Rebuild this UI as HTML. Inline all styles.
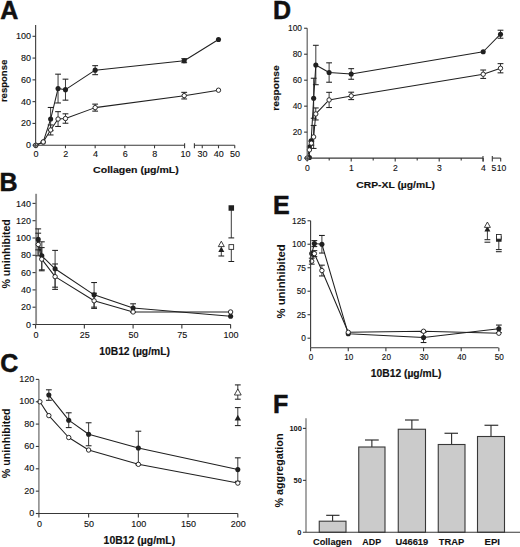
<!DOCTYPE html>
<html><head><meta charset="utf-8"><style>
html,body{margin:0;padding:0;background:#fff;}
svg{display:block;font-family:"Liberation Sans",sans-serif;}
</style></head><body>
<svg width="520" height="547" viewBox="0 0 520 547">
<rect width="520" height="547" fill="#fff"/>
<text x="0.3" y="18.6" font-size="25" text-anchor="start" font-weight="bold" stroke="#111" stroke-width="0.5" fill="#111">A</text>
<text x="31" y="148.2" font-size="9" text-anchor="end" stroke="#111" stroke-width="0.12" fill="#111">0</text>
<text x="31" y="126.42" font-size="9" text-anchor="end" stroke="#111" stroke-width="0.12" fill="#111">20</text>
<text x="31" y="104.64" font-size="9" text-anchor="end" stroke="#111" stroke-width="0.12" fill="#111">40</text>
<text x="31" y="82.86" font-size="9" text-anchor="end" stroke="#111" stroke-width="0.12" fill="#111">60</text>
<text x="31" y="61.08" font-size="9" text-anchor="end" stroke="#111" stroke-width="0.12" fill="#111">80</text>
<text x="31" y="39.3" font-size="9" text-anchor="end" stroke="#111" stroke-width="0.12" fill="#111">100</text>
<text x="36.1" y="157.2" font-size="9" text-anchor="middle" stroke="#111" stroke-width="0.12" fill="#111">0</text>
<text x="65.78" y="157.2" font-size="9" text-anchor="middle" stroke="#111" stroke-width="0.12" fill="#111">2</text>
<text x="95.46" y="157.2" font-size="9" text-anchor="middle" stroke="#111" stroke-width="0.12" fill="#111">4</text>
<text x="125.14" y="157.2" font-size="9" text-anchor="middle" stroke="#111" stroke-width="0.12" fill="#111">6</text>
<text x="154.82" y="157.2" font-size="9" text-anchor="middle" stroke="#111" stroke-width="0.12" fill="#111">8</text>
<text x="185.6" y="157.2" font-size="9" text-anchor="middle" stroke="#111" stroke-width="0.12" fill="#111">10</text>
<text x="202.55" y="157.2" font-size="9" text-anchor="middle" stroke="#111" stroke-width="0.12" fill="#111">30</text>
<text x="218.8" y="157.2" font-size="9" text-anchor="middle" stroke="#111" stroke-width="0.12" fill="#111">40</text>
<text x="235.05" y="157.2" font-size="9" text-anchor="middle" stroke="#111" stroke-width="0.12" fill="#111">50</text>
<text x="135.9" y="173.1" font-size="9.4" text-anchor="middle" font-weight="bold" textLength="85.6" lengthAdjust="spacingAndGlyphs" stroke="#111" stroke-width="0.15" fill="#111">Collagen (µg/mL)</text>
<text x="6.6" y="80.9" font-size="9.5" text-anchor="middle" font-weight="bold" textLength="42.4" lengthAdjust="spacingAndGlyphs" transform="rotate(-90 6.6 80.9)" stroke="#111" stroke-width="0.15" fill="#111">response</text>
<line x1="50.64" y1="129.95" x2="50.64" y2="124.95" stroke="#303030" stroke-width="0.95"/>
<line x1="47.74" y1="124.95" x2="53.54" y2="124.95" stroke="#202020" stroke-width="1.05"/>
<line x1="50.64" y1="129.95" x2="50.64" y2="134.95" stroke="#303030" stroke-width="0.95"/>
<line x1="47.74" y1="134.95" x2="53.54" y2="134.95" stroke="#202020" stroke-width="1.05"/>
<line x1="58.06" y1="119.06" x2="58.06" y2="111.66" stroke="#303030" stroke-width="0.95"/>
<line x1="55.16" y1="111.66" x2="60.96" y2="111.66" stroke="#202020" stroke-width="1.05"/>
<line x1="58.06" y1="119.06" x2="58.06" y2="126.46" stroke="#303030" stroke-width="0.95"/>
<line x1="55.16" y1="126.46" x2="60.96" y2="126.46" stroke="#202020" stroke-width="1.05"/>
<line x1="65.48" y1="118.52" x2="65.48" y2="113.82" stroke="#303030" stroke-width="0.95"/>
<line x1="62.58" y1="113.82" x2="68.38" y2="113.82" stroke="#202020" stroke-width="1.05"/>
<line x1="65.48" y1="118.52" x2="65.48" y2="123.22" stroke="#303030" stroke-width="0.95"/>
<line x1="62.58" y1="123.22" x2="68.38" y2="123.22" stroke="#202020" stroke-width="1.05"/>
<line x1="95.16" y1="107.63" x2="95.16" y2="104.13" stroke="#303030" stroke-width="0.95"/>
<line x1="92.26" y1="104.13" x2="98.06" y2="104.13" stroke="#202020" stroke-width="1.05"/>
<line x1="95.16" y1="107.63" x2="95.16" y2="111.13" stroke="#303030" stroke-width="0.95"/>
<line x1="92.26" y1="111.13" x2="98.06" y2="111.13" stroke="#202020" stroke-width="1.05"/>
<line x1="184.2" y1="95.65" x2="184.2" y2="92.35" stroke="#303030" stroke-width="0.95"/>
<line x1="181.3" y1="92.35" x2="187.1" y2="92.35" stroke="#202020" stroke-width="1.05"/>
<line x1="184.2" y1="95.65" x2="184.2" y2="98.95" stroke="#303030" stroke-width="0.95"/>
<line x1="181.3" y1="98.95" x2="187.1" y2="98.95" stroke="#202020" stroke-width="1.05"/>
<line x1="50.64" y1="119.06" x2="50.64" y2="107.46" stroke="#303030" stroke-width="0.95"/>
<line x1="47.74" y1="107.46" x2="53.54" y2="107.46" stroke="#202020" stroke-width="1.05"/>
<line x1="50.64" y1="119.06" x2="50.64" y2="130.66" stroke="#303030" stroke-width="0.95"/>
<line x1="47.74" y1="130.66" x2="53.54" y2="130.66" stroke="#202020" stroke-width="1.05"/>
<line x1="58.06" y1="88.57" x2="58.06" y2="74.17" stroke="#303030" stroke-width="0.95"/>
<line x1="55.16" y1="74.17" x2="60.96" y2="74.17" stroke="#202020" stroke-width="1.05"/>
<line x1="58.06" y1="88.57" x2="58.06" y2="102.97" stroke="#303030" stroke-width="0.95"/>
<line x1="55.16" y1="102.97" x2="60.96" y2="102.97" stroke="#202020" stroke-width="1.05"/>
<line x1="65.48" y1="89.66" x2="65.48" y2="79.16" stroke="#303030" stroke-width="0.95"/>
<line x1="62.58" y1="79.16" x2="68.38" y2="79.16" stroke="#202020" stroke-width="1.05"/>
<line x1="65.48" y1="89.66" x2="65.48" y2="100.16" stroke="#303030" stroke-width="0.95"/>
<line x1="62.58" y1="100.16" x2="68.38" y2="100.16" stroke="#202020" stroke-width="1.05"/>
<line x1="95.16" y1="70.17" x2="95.16" y2="65.67" stroke="#303030" stroke-width="0.95"/>
<line x1="92.26" y1="65.67" x2="98.06" y2="65.67" stroke="#202020" stroke-width="1.05"/>
<line x1="95.16" y1="70.17" x2="95.16" y2="74.67" stroke="#303030" stroke-width="0.95"/>
<line x1="92.26" y1="74.67" x2="98.06" y2="74.67" stroke="#202020" stroke-width="1.05"/>
<line x1="184.2" y1="60.69" x2="184.2" y2="58.69" stroke="#303030" stroke-width="0.95"/>
<line x1="181.3" y1="58.69" x2="187.1" y2="58.69" stroke="#202020" stroke-width="1.05"/>
<line x1="184.2" y1="60.69" x2="184.2" y2="62.69" stroke="#303030" stroke-width="0.95"/>
<line x1="181.3" y1="62.69" x2="187.1" y2="62.69" stroke="#202020" stroke-width="1.05"/>
<polyline points="35.8,145.2 43.22,141.93 50.64,129.95 58.06,119.06 65.48,118.52 95.16,107.63 184.2,95.65 218.5,90.21" fill="none" stroke="#202020" stroke-width="1.05" stroke-linejoin="round"/>
<polyline points="35.8,145.2 43.22,141.93 50.64,119.06 58.06,88.57 65.48,89.66 95.16,70.17 184.2,60.69 218.5,39.57" fill="none" stroke="#202020" stroke-width="1.05" stroke-linejoin="round"/>
<circle cx="35.8" cy="145.2" r="2.55" fill="#202020"/>
<circle cx="43.22" cy="141.93" r="2.55" fill="#202020"/>
<circle cx="50.64" cy="119.06" r="2.55" fill="#202020"/>
<circle cx="58.06" cy="88.57" r="2.55" fill="#202020"/>
<circle cx="65.48" cy="89.66" r="2.55" fill="#202020"/>
<circle cx="95.16" cy="70.17" r="2.55" fill="#202020"/>
<circle cx="184.2" cy="60.69" r="2.55" fill="#202020"/>
<circle cx="218.5" cy="39.57" r="2.55" fill="#202020"/>
<circle cx="35.8" cy="145.2" r="2.2" fill="#fff" stroke="#202020" stroke-width="0.95"/>
<circle cx="43.22" cy="141.93" r="2.2" fill="#fff" stroke="#202020" stroke-width="0.95"/>
<circle cx="50.64" cy="129.95" r="2.2" fill="#fff" stroke="#202020" stroke-width="0.95"/>
<circle cx="58.06" cy="119.06" r="2.2" fill="#fff" stroke="#202020" stroke-width="0.95"/>
<circle cx="65.48" cy="118.52" r="2.2" fill="#fff" stroke="#202020" stroke-width="0.95"/>
<circle cx="95.16" cy="107.63" r="2.2" fill="#fff" stroke="#202020" stroke-width="0.95"/>
<circle cx="184.2" cy="95.65" r="2.2" fill="#fff" stroke="#202020" stroke-width="0.95"/>
<circle cx="218.5" cy="90.21" r="2.2" fill="#fff" stroke="#202020" stroke-width="0.95"/>
<text x="-0.4" y="190.8" font-size="25" text-anchor="start" font-weight="bold" stroke="#111" stroke-width="0.5" fill="#111">B</text>
<line x1="36.1" y1="193.8" x2="36.1" y2="324.5" stroke="#8e8e8e" stroke-width="1.9"/>
<text x="31" y="327.61" font-size="9" text-anchor="end" stroke="#111" stroke-width="0.12" fill="#111">0</text>
<text x="31" y="310.31" font-size="9" text-anchor="end" stroke="#111" stroke-width="0.12" fill="#111">20</text>
<text x="31" y="293" font-size="9" text-anchor="end" stroke="#111" stroke-width="0.12" fill="#111">40</text>
<text x="31" y="275.71" font-size="9" text-anchor="end" stroke="#111" stroke-width="0.12" fill="#111">60</text>
<text x="31" y="258.41" font-size="9" text-anchor="end" stroke="#111" stroke-width="0.12" fill="#111">80</text>
<text x="31" y="241.1" font-size="9" text-anchor="end" stroke="#111" stroke-width="0.12" fill="#111">100</text>
<text x="31" y="223.8" font-size="9" text-anchor="end" stroke="#111" stroke-width="0.12" fill="#111">120</text>
<text x="31" y="206.5" font-size="9" text-anchor="end" stroke="#111" stroke-width="0.12" fill="#111">140</text>
<text x="36.1" y="337.5" font-size="9" text-anchor="middle" stroke="#111" stroke-width="0.12" fill="#111">0</text>
<text x="84.85" y="337.5" font-size="9" text-anchor="middle" stroke="#111" stroke-width="0.12" fill="#111">25</text>
<text x="133.6" y="337.5" font-size="9" text-anchor="middle" stroke="#111" stroke-width="0.12" fill="#111">50</text>
<text x="182.35" y="337.5" font-size="9" text-anchor="middle" stroke="#111" stroke-width="0.12" fill="#111">75</text>
<text x="231.1" y="337.5" font-size="9" text-anchor="middle" stroke="#111" stroke-width="0.12" fill="#111">100</text>
<text x="134.6" y="355" font-size="10" text-anchor="middle" font-weight="bold" textLength="70.8" lengthAdjust="spacingAndGlyphs" stroke="#111" stroke-width="0.15" fill="#111">10B12 (µg/mL)</text>
<text x="10" y="253.9" font-size="10.3" text-anchor="middle" font-weight="bold" textLength="69.3" lengthAdjust="spacingAndGlyphs" transform="rotate(-90 10 253.9)" fill="#111">% uninhibited</text>
<rect x="35.6" y="249.8" width="4" height="5.4" fill="#a5a5a5"/>
<line x1="38.23" y1="244.49" x2="38.23" y2="233.19" stroke="#303030" stroke-width="0.95"/>
<line x1="35.33" y1="233.19" x2="41.13" y2="233.19" stroke="#202020" stroke-width="1.05"/>
<line x1="38.23" y1="244.49" x2="38.23" y2="255.79" stroke="#303030" stroke-width="0.95"/>
<line x1="35.33" y1="255.79" x2="41.13" y2="255.79" stroke="#202020" stroke-width="1.05"/>
<line x1="41.74" y1="259.19" x2="41.74" y2="247.59" stroke="#303030" stroke-width="0.95"/>
<line x1="38.84" y1="247.59" x2="44.64" y2="247.59" stroke="#202020" stroke-width="1.05"/>
<line x1="41.74" y1="259.19" x2="41.74" y2="270.79" stroke="#303030" stroke-width="0.95"/>
<line x1="38.84" y1="270.79" x2="44.64" y2="270.79" stroke="#202020" stroke-width="1.05"/>
<line x1="55.1" y1="276.67" x2="55.1" y2="263.97" stroke="#303030" stroke-width="0.95"/>
<line x1="52.2" y1="263.97" x2="58" y2="263.97" stroke="#202020" stroke-width="1.05"/>
<line x1="55.1" y1="276.67" x2="55.1" y2="289.37" stroke="#303030" stroke-width="0.95"/>
<line x1="52.2" y1="289.37" x2="58" y2="289.37" stroke="#202020" stroke-width="1.05"/>
<line x1="94.1" y1="300.8" x2="94.1" y2="293.2" stroke="#303030" stroke-width="0.95"/>
<line x1="91.2" y1="293.2" x2="97" y2="293.2" stroke="#202020" stroke-width="1.05"/>
<line x1="94.1" y1="300.8" x2="94.1" y2="308.4" stroke="#303030" stroke-width="0.95"/>
<line x1="91.2" y1="308.4" x2="97" y2="308.4" stroke="#202020" stroke-width="1.05"/>
<line x1="38.23" y1="239.38" x2="38.23" y2="228.88" stroke="#303030" stroke-width="0.95"/>
<line x1="35.33" y1="228.88" x2="41.13" y2="228.88" stroke="#202020" stroke-width="1.05"/>
<line x1="38.23" y1="239.38" x2="38.23" y2="249.88" stroke="#303030" stroke-width="0.95"/>
<line x1="35.33" y1="249.88" x2="41.13" y2="249.88" stroke="#202020" stroke-width="1.05"/>
<line x1="41.84" y1="255.82" x2="41.84" y2="241.82" stroke="#303030" stroke-width="0.95"/>
<line x1="38.94" y1="241.82" x2="44.74" y2="241.82" stroke="#202020" stroke-width="1.05"/>
<line x1="41.84" y1="255.82" x2="41.84" y2="269.82" stroke="#303030" stroke-width="0.95"/>
<line x1="38.94" y1="269.82" x2="44.74" y2="269.82" stroke="#202020" stroke-width="1.05"/>
<line x1="55.1" y1="268.79" x2="55.1" y2="250.39" stroke="#303030" stroke-width="0.95"/>
<line x1="52.2" y1="250.39" x2="58" y2="250.39" stroke="#202020" stroke-width="1.05"/>
<line x1="55.1" y1="268.79" x2="55.1" y2="287.19" stroke="#303030" stroke-width="0.95"/>
<line x1="52.2" y1="287.19" x2="58" y2="287.19" stroke="#202020" stroke-width="1.05"/>
<line x1="94.1" y1="294.83" x2="94.1" y2="282.53" stroke="#303030" stroke-width="0.95"/>
<line x1="91.2" y1="282.53" x2="97" y2="282.53" stroke="#202020" stroke-width="1.05"/>
<line x1="94.1" y1="294.83" x2="94.1" y2="307.13" stroke="#303030" stroke-width="0.95"/>
<line x1="91.2" y1="307.13" x2="97" y2="307.13" stroke="#202020" stroke-width="1.05"/>
<line x1="133.1" y1="308.06" x2="133.1" y2="303.81" stroke="#303030" stroke-width="0.95"/>
<line x1="130.2" y1="303.81" x2="136" y2="303.81" stroke="#202020" stroke-width="1.05"/>
<line x1="133.1" y1="308.06" x2="133.1" y2="312.31" stroke="#303030" stroke-width="0.95"/>
<line x1="130.2" y1="312.31" x2="136" y2="312.31" stroke="#202020" stroke-width="1.05"/>
<polyline points="38.23,244.49 41.74,259.19 55.1,276.67 94.1,300.8 133.1,311.96 230.6,311.96" fill="none" stroke="#202020" stroke-width="1.05" stroke-linejoin="round"/>
<polyline points="38.23,239.38 41.84,255.82 55.1,268.79 94.1,294.83 133.1,308.06 230.6,316.28" fill="none" stroke="#202020" stroke-width="1.05" stroke-linejoin="round"/>
<circle cx="38.23" cy="239.38" r="2.55" fill="#202020"/>
<circle cx="41.84" cy="255.82" r="2.55" fill="#202020"/>
<circle cx="55.1" cy="268.79" r="2.55" fill="#202020"/>
<circle cx="94.1" cy="294.83" r="2.55" fill="#202020"/>
<circle cx="133.1" cy="308.06" r="2.55" fill="#202020"/>
<circle cx="230.6" cy="316.28" r="2.55" fill="#202020"/>
<circle cx="38.23" cy="244.49" r="2.2" fill="#fff" stroke="#202020" stroke-width="0.95"/>
<circle cx="41.74" cy="259.19" r="2.2" fill="#fff" stroke="#202020" stroke-width="0.95"/>
<circle cx="55.1" cy="276.67" r="2.2" fill="#fff" stroke="#202020" stroke-width="0.95"/>
<circle cx="94.1" cy="300.8" r="2.2" fill="#fff" stroke="#202020" stroke-width="0.95"/>
<circle cx="133.1" cy="311.96" r="2.2" fill="#fff" stroke="#202020" stroke-width="0.95"/>
<circle cx="230.6" cy="311.96" r="2.2" fill="#fff" stroke="#202020" stroke-width="0.95"/>
<line x1="231.3" y1="208" x2="231.3" y2="237.9" stroke="#303030" stroke-width="0.95"/>
<line x1="228.4" y1="237.9" x2="234.2" y2="237.9" stroke="#202020" stroke-width="1.05"/>
<rect x="228.55" y="205.25" width="5.5" height="5.5" fill="#202020"/>
<line x1="231.3" y1="247" x2="231.3" y2="261.5" stroke="#303030" stroke-width="0.95"/>
<line x1="228.4" y1="261.5" x2="234.2" y2="261.5" stroke="#202020" stroke-width="1.05"/>
<rect x="228.95" y="244.65" width="4.7" height="4.7" fill="#fff" stroke="#202020" stroke-width="0.85"/>
<line x1="221.3" y1="249.6" x2="221.3" y2="256" stroke="#303030" stroke-width="0.95"/>
<line x1="218.4" y1="256" x2="224.2" y2="256" stroke="#202020" stroke-width="1.05"/>
<polygon points="221.3,246.6 224.3,252 218.3,252" fill="#202020"/>
<polygon points="221.3,241.2 224.3,246.6 218.3,246.6" fill="#fff" stroke="#202020" stroke-width="0.85"/>
<text x="0.3" y="371.5" font-size="25" text-anchor="start" font-weight="bold" stroke="#111" stroke-width="0.5" fill="#111">C</text>
<line x1="38.9" y1="379.4" x2="38.9" y2="513.5" stroke="#787878" stroke-width="1.35"/>
<text x="34.3" y="516.11" font-size="9" text-anchor="end" stroke="#111" stroke-width="0.12" fill="#111">0</text>
<text x="34.3" y="493.75" font-size="9" text-anchor="end" stroke="#111" stroke-width="0.12" fill="#111">20</text>
<text x="34.3" y="471.41" font-size="9" text-anchor="end" stroke="#111" stroke-width="0.12" fill="#111">40</text>
<text x="34.3" y="449.06" font-size="9" text-anchor="end" stroke="#111" stroke-width="0.12" fill="#111">60</text>
<text x="34.3" y="426.71" font-size="9" text-anchor="end" stroke="#111" stroke-width="0.12" fill="#111">80</text>
<text x="34.3" y="404.36" font-size="9" text-anchor="end" stroke="#111" stroke-width="0.12" fill="#111">100</text>
<text x="34.3" y="382" font-size="9" text-anchor="end" stroke="#111" stroke-width="0.12" fill="#111">120</text>
<text x="39.4" y="526.8" font-size="9" text-anchor="middle" stroke="#111" stroke-width="0.12" fill="#111">0</text>
<text x="89.12" y="526.8" font-size="9" text-anchor="middle" stroke="#111" stroke-width="0.12" fill="#111">50</text>
<text x="138.85" y="526.8" font-size="9" text-anchor="middle" stroke="#111" stroke-width="0.12" fill="#111">100</text>
<text x="188.58" y="526.8" font-size="9" text-anchor="middle" stroke="#111" stroke-width="0.12" fill="#111">150</text>
<text x="238.3" y="526.8" font-size="9" text-anchor="middle" stroke="#111" stroke-width="0.12" fill="#111">200</text>
<text x="139.4" y="544.2" font-size="10" text-anchor="middle" font-weight="bold" textLength="71.6" lengthAdjust="spacingAndGlyphs" stroke="#111" stroke-width="0.15" fill="#111">10B12 (µg/mL)</text>
<text x="10.2" y="443.3" font-size="10.3" text-anchor="middle" font-weight="bold" textLength="69.8" lengthAdjust="spacingAndGlyphs" transform="rotate(-90 10.2 443.3)" fill="#111">% uninhibited</text>
<line x1="48.84" y1="395.05" x2="48.84" y2="389.8" stroke="#303030" stroke-width="0.95"/>
<line x1="45.95" y1="389.8" x2="51.74" y2="389.8" stroke="#202020" stroke-width="1.05"/>
<line x1="48.84" y1="395.05" x2="48.84" y2="400.3" stroke="#303030" stroke-width="0.95"/>
<line x1="45.95" y1="400.3" x2="51.74" y2="400.3" stroke="#202020" stroke-width="1.05"/>
<line x1="68.73" y1="420.19" x2="68.73" y2="412.79" stroke="#303030" stroke-width="0.95"/>
<line x1="65.83" y1="412.79" x2="71.64" y2="412.79" stroke="#202020" stroke-width="1.05"/>
<line x1="68.73" y1="420.19" x2="68.73" y2="427.59" stroke="#303030" stroke-width="0.95"/>
<line x1="65.83" y1="427.59" x2="71.64" y2="427.59" stroke="#202020" stroke-width="1.05"/>
<line x1="88.62" y1="434.27" x2="88.62" y2="422.77" stroke="#303030" stroke-width="0.95"/>
<line x1="85.72" y1="422.77" x2="91.53" y2="422.77" stroke="#202020" stroke-width="1.05"/>
<line x1="88.62" y1="434.27" x2="88.62" y2="445.77" stroke="#303030" stroke-width="0.95"/>
<line x1="85.72" y1="445.77" x2="91.53" y2="445.77" stroke="#202020" stroke-width="1.05"/>
<line x1="138.35" y1="448.01" x2="138.35" y2="431.21" stroke="#303030" stroke-width="0.95"/>
<line x1="135.45" y1="431.21" x2="141.25" y2="431.21" stroke="#202020" stroke-width="1.05"/>
<line x1="138.35" y1="448.01" x2="138.35" y2="464.81" stroke="#303030" stroke-width="0.95"/>
<line x1="135.45" y1="464.81" x2="141.25" y2="464.81" stroke="#202020" stroke-width="1.05"/>
<line x1="237.8" y1="469.58" x2="237.8" y2="457.83" stroke="#303030" stroke-width="0.95"/>
<line x1="234.9" y1="457.83" x2="240.7" y2="457.83" stroke="#202020" stroke-width="1.05"/>
<line x1="237.8" y1="469.58" x2="237.8" y2="481.33" stroke="#303030" stroke-width="0.95"/>
<line x1="234.9" y1="481.33" x2="240.7" y2="481.33" stroke="#202020" stroke-width="1.05"/>
<polyline points="39.89,401.75 48.84,415.61 68.73,437.51 88.62,450.03 138.35,464.33 237.8,483.1" fill="none" stroke="#202020" stroke-width="1.05" stroke-linejoin="round"/>
<polyline points="48.84,395.05 68.73,420.19 88.62,434.27 138.35,448.01 237.8,469.58" fill="none" stroke="#202020" stroke-width="1.05" stroke-linejoin="round"/>
<circle cx="48.84" cy="395.05" r="2.55" fill="#202020"/>
<circle cx="68.73" cy="420.19" r="2.55" fill="#202020"/>
<circle cx="88.62" cy="434.27" r="2.55" fill="#202020"/>
<circle cx="138.35" cy="448.01" r="2.55" fill="#202020"/>
<circle cx="237.8" cy="469.58" r="2.55" fill="#202020"/>
<circle cx="39.89" cy="401.75" r="2.2" fill="#fff" stroke="#202020" stroke-width="0.95"/>
<circle cx="48.84" cy="415.61" r="2.2" fill="#fff" stroke="#202020" stroke-width="0.95"/>
<circle cx="68.73" cy="437.51" r="2.2" fill="#fff" stroke="#202020" stroke-width="0.95"/>
<circle cx="88.62" cy="450.03" r="2.2" fill="#fff" stroke="#202020" stroke-width="0.95"/>
<circle cx="138.35" cy="464.33" r="2.2" fill="#fff" stroke="#202020" stroke-width="0.95"/>
<circle cx="237.8" cy="483.1" r="2.2" fill="#fff" stroke="#202020" stroke-width="0.95"/>
<line x1="237.8" y1="392.3" x2="237.8" y2="384.9" stroke="#303030" stroke-width="0.95"/>
<line x1="234.9" y1="384.9" x2="240.7" y2="384.9" stroke="#202020" stroke-width="1.05"/>
<line x1="237.8" y1="392.3" x2="237.8" y2="399.2" stroke="#303030" stroke-width="0.95"/>
<line x1="234.9" y1="399.2" x2="240.7" y2="399.2" stroke="#202020" stroke-width="1.05"/>
<polygon points="237.8,388.9 241.2,395.02 234.4,395.02" fill="#fff" stroke="#202020" stroke-width="0.85"/>
<line x1="237.8" y1="418" x2="237.8" y2="407.6" stroke="#303030" stroke-width="0.95"/>
<line x1="234.9" y1="407.6" x2="240.7" y2="407.6" stroke="#202020" stroke-width="1.05"/>
<line x1="237.8" y1="418" x2="237.8" y2="425.6" stroke="#303030" stroke-width="0.95"/>
<line x1="234.9" y1="425.6" x2="240.7" y2="425.6" stroke="#202020" stroke-width="1.05"/>
<polygon points="237.8,414.8 241,420.56 234.6,420.56" fill="#202020"/>
<text x="273" y="18.75" font-size="25" text-anchor="start" font-weight="bold" stroke="#111" stroke-width="0.5" fill="#111">D</text>
<text x="302" y="161.3" font-size="8.4" text-anchor="end" stroke="#111" stroke-width="0.12" fill="#111">0</text>
<text x="302" y="135.33" font-size="8.4" text-anchor="end" stroke="#111" stroke-width="0.12" fill="#111">20</text>
<text x="302" y="109.36" font-size="8.4" text-anchor="end" stroke="#111" stroke-width="0.12" fill="#111">40</text>
<text x="302" y="83.39" font-size="8.4" text-anchor="end" stroke="#111" stroke-width="0.12" fill="#111">60</text>
<text x="302" y="57.42" font-size="8.4" text-anchor="end" stroke="#111" stroke-width="0.12" fill="#111">80</text>
<text x="302" y="31.45" font-size="8.4" text-anchor="end" stroke="#111" stroke-width="0.12" fill="#111">100</text>
<text x="307.5" y="171" font-size="8.6" text-anchor="middle" stroke="#111" stroke-width="0.12" fill="#111">0</text>
<text x="351.5" y="171" font-size="8.6" text-anchor="middle" stroke="#111" stroke-width="0.12" fill="#111">1</text>
<text x="395.5" y="171" font-size="8.6" text-anchor="middle" stroke="#111" stroke-width="0.12" fill="#111">2</text>
<text x="439.5" y="171" font-size="8.6" text-anchor="middle" stroke="#111" stroke-width="0.12" fill="#111">3</text>
<text x="483.5" y="171" font-size="8.6" text-anchor="middle" stroke="#111" stroke-width="0.12" fill="#111">4</text>
<text x="493.8" y="171" font-size="8.6" text-anchor="middle" stroke="#111" stroke-width="0.12" fill="#111">5</text>
<text x="501.6" y="171" font-size="8.6" text-anchor="middle" stroke="#111" stroke-width="0.12" fill="#111">10</text>
<text x="395.6" y="188.2" font-size="9.7" text-anchor="middle" font-weight="bold" textLength="78.6" lengthAdjust="spacingAndGlyphs" stroke="#111" stroke-width="0.15" fill="#111">CRP-XL (µg/mL)</text>
<text x="279.4" y="88" font-size="9.7" text-anchor="middle" font-weight="bold" textLength="45.4" lengthAdjust="spacingAndGlyphs" transform="rotate(-90 279.4 88)" stroke="#111" stroke-width="0.15" fill="#111">response</text>
<line x1="311.34" y1="143.17" x2="311.34" y2="141.17" stroke="#303030" stroke-width="0.95"/>
<line x1="308.44" y1="141.17" x2="314.24" y2="141.17" stroke="#202020" stroke-width="1.05"/>
<line x1="311.34" y1="143.17" x2="311.34" y2="145.17" stroke="#303030" stroke-width="0.95"/>
<line x1="308.44" y1="145.17" x2="314.24" y2="145.17" stroke="#202020" stroke-width="1.05"/>
<line x1="313.62" y1="136.93" x2="313.62" y2="125.43" stroke="#303030" stroke-width="0.95"/>
<line x1="310.72" y1="125.43" x2="316.52" y2="125.43" stroke="#202020" stroke-width="1.05"/>
<line x1="313.62" y1="136.93" x2="313.62" y2="148.43" stroke="#303030" stroke-width="0.95"/>
<line x1="310.72" y1="148.43" x2="316.52" y2="148.43" stroke="#202020" stroke-width="1.05"/>
<line x1="315.78" y1="113.95" x2="315.78" y2="107.95" stroke="#303030" stroke-width="0.95"/>
<line x1="312.88" y1="107.95" x2="318.68" y2="107.95" stroke="#202020" stroke-width="1.05"/>
<line x1="315.78" y1="113.95" x2="315.78" y2="119.95" stroke="#303030" stroke-width="0.95"/>
<line x1="312.88" y1="119.95" x2="318.68" y2="119.95" stroke="#202020" stroke-width="1.05"/>
<line x1="329.11" y1="99.93" x2="329.11" y2="92.33" stroke="#303030" stroke-width="0.95"/>
<line x1="326.21" y1="92.33" x2="332.01" y2="92.33" stroke="#202020" stroke-width="1.05"/>
<line x1="329.11" y1="99.93" x2="329.11" y2="107.53" stroke="#303030" stroke-width="0.95"/>
<line x1="326.21" y1="107.53" x2="332.01" y2="107.53" stroke="#202020" stroke-width="1.05"/>
<line x1="351.2" y1="95.9" x2="351.2" y2="92.2" stroke="#303030" stroke-width="0.95"/>
<line x1="348.3" y1="92.2" x2="354.1" y2="92.2" stroke="#202020" stroke-width="1.05"/>
<line x1="351.2" y1="95.9" x2="351.2" y2="99.6" stroke="#303030" stroke-width="0.95"/>
<line x1="348.3" y1="99.6" x2="354.1" y2="99.6" stroke="#202020" stroke-width="1.05"/>
<line x1="483.2" y1="74.22" x2="483.2" y2="70.02" stroke="#303030" stroke-width="0.95"/>
<line x1="480.3" y1="70.02" x2="486.1" y2="70.02" stroke="#202020" stroke-width="1.05"/>
<line x1="483.2" y1="74.22" x2="483.2" y2="78.42" stroke="#303030" stroke-width="0.95"/>
<line x1="480.3" y1="78.42" x2="486.1" y2="78.42" stroke="#202020" stroke-width="1.05"/>
<line x1="500.5" y1="68.24" x2="500.5" y2="63.64" stroke="#303030" stroke-width="0.95"/>
<line x1="497.6" y1="63.64" x2="503.4" y2="63.64" stroke="#202020" stroke-width="1.05"/>
<line x1="500.5" y1="68.24" x2="500.5" y2="72.84" stroke="#303030" stroke-width="0.95"/>
<line x1="497.6" y1="72.84" x2="503.4" y2="72.84" stroke="#202020" stroke-width="1.05"/>
<line x1="313.67" y1="98.24" x2="313.67" y2="78.24" stroke="#303030" stroke-width="0.95"/>
<line x1="310.77" y1="78.24" x2="316.57" y2="78.24" stroke="#202020" stroke-width="1.05"/>
<line x1="313.67" y1="98.24" x2="313.67" y2="118.24" stroke="#303030" stroke-width="0.95"/>
<line x1="310.77" y1="118.24" x2="316.57" y2="118.24" stroke="#202020" stroke-width="1.05"/>
<line x1="315.82" y1="65" x2="315.82" y2="45.3" stroke="#303030" stroke-width="0.95"/>
<line x1="312.92" y1="45.3" x2="318.72" y2="45.3" stroke="#202020" stroke-width="1.05"/>
<line x1="315.82" y1="65" x2="315.82" y2="84.7" stroke="#303030" stroke-width="0.95"/>
<line x1="312.92" y1="84.7" x2="318.72" y2="84.7" stroke="#202020" stroke-width="1.05"/>
<line x1="329.11" y1="72.53" x2="329.11" y2="62.83" stroke="#303030" stroke-width="0.95"/>
<line x1="326.21" y1="62.83" x2="332.01" y2="62.83" stroke="#202020" stroke-width="1.05"/>
<line x1="329.11" y1="72.53" x2="329.11" y2="82.23" stroke="#303030" stroke-width="0.95"/>
<line x1="326.21" y1="82.23" x2="332.01" y2="82.23" stroke="#202020" stroke-width="1.05"/>
<line x1="351.2" y1="73.96" x2="351.2" y2="68.66" stroke="#303030" stroke-width="0.95"/>
<line x1="348.3" y1="68.66" x2="354.1" y2="68.66" stroke="#202020" stroke-width="1.05"/>
<line x1="351.2" y1="73.96" x2="351.2" y2="79.26" stroke="#303030" stroke-width="0.95"/>
<line x1="348.3" y1="79.26" x2="354.1" y2="79.26" stroke="#202020" stroke-width="1.05"/>
<line x1="500.5" y1="34.22" x2="500.5" y2="30.22" stroke="#303030" stroke-width="0.95"/>
<line x1="497.6" y1="30.22" x2="503.4" y2="30.22" stroke="#202020" stroke-width="1.05"/>
<line x1="500.5" y1="34.22" x2="500.5" y2="38.22" stroke="#303030" stroke-width="0.95"/>
<line x1="497.6" y1="38.22" x2="503.4" y2="38.22" stroke="#202020" stroke-width="1.05"/>
<polyline points="307.2,158.1 309.4,149.92 311.34,143.17 313.62,136.93 315.78,113.95 329.11,99.93 351.2,95.9 483.2,74.22 500.5,68.24" fill="none" stroke="#202020" stroke-width="1.05" stroke-linejoin="round"/>
<polyline points="309.4,157.45 309.4,147.06 311.16,140.83 313.67,98.24 315.82,65 329.11,72.53 351.2,73.96 483.2,51.75 500.5,34.22" fill="none" stroke="#202020" stroke-width="1.05" stroke-linejoin="round"/>
<circle cx="309.4" cy="157.45" r="2.55" fill="#202020"/>
<circle cx="309.4" cy="147.06" r="2.55" fill="#202020"/>
<circle cx="311.16" cy="140.83" r="2.55" fill="#202020"/>
<circle cx="313.67" cy="98.24" r="2.55" fill="#202020"/>
<circle cx="315.82" cy="65" r="2.55" fill="#202020"/>
<circle cx="329.11" cy="72.53" r="2.55" fill="#202020"/>
<circle cx="351.2" cy="73.96" r="2.55" fill="#202020"/>
<circle cx="483.2" cy="51.75" r="2.55" fill="#202020"/>
<circle cx="500.5" cy="34.22" r="2.55" fill="#202020"/>
<circle cx="307.2" cy="158.1" r="2.2" fill="#fff" stroke="#202020" stroke-width="0.95"/>
<circle cx="309.4" cy="149.92" r="2.2" fill="#fff" stroke="#202020" stroke-width="0.95"/>
<circle cx="311.34" cy="143.17" r="2.2" fill="#fff" stroke="#202020" stroke-width="0.95"/>
<circle cx="313.62" cy="136.93" r="2.2" fill="#fff" stroke="#202020" stroke-width="0.95"/>
<circle cx="315.78" cy="113.95" r="2.2" fill="#fff" stroke="#202020" stroke-width="0.95"/>
<circle cx="329.11" cy="99.93" r="2.2" fill="#fff" stroke="#202020" stroke-width="0.95"/>
<circle cx="351.2" cy="95.9" r="2.2" fill="#fff" stroke="#202020" stroke-width="0.95"/>
<circle cx="483.2" cy="74.22" r="2.2" fill="#fff" stroke="#202020" stroke-width="0.95"/>
<circle cx="500.5" cy="68.24" r="2.2" fill="#fff" stroke="#202020" stroke-width="0.95"/>
<text x="273" y="213.6" font-size="25" text-anchor="start" font-weight="bold" stroke="#111" stroke-width="0.5" fill="#111">E</text>
<text x="306" y="341.1" font-size="8.4" text-anchor="end" stroke="#111" stroke-width="0.12" fill="#111">0</text>
<text x="306" y="317.61" font-size="8.4" text-anchor="end" stroke="#111" stroke-width="0.12" fill="#111">25</text>
<text x="306" y="294.12" font-size="8.4" text-anchor="end" stroke="#111" stroke-width="0.12" fill="#111">50</text>
<text x="306" y="270.64" font-size="8.4" text-anchor="end" stroke="#111" stroke-width="0.12" fill="#111">75</text>
<text x="306" y="247.15" font-size="8.4" text-anchor="end" stroke="#111" stroke-width="0.12" fill="#111">100</text>
<text x="306" y="223.66" font-size="8.4" text-anchor="end" stroke="#111" stroke-width="0.12" fill="#111">125</text>
<text x="311.1" y="359.8" font-size="8.2" text-anchor="middle" stroke="#111" stroke-width="0.12" fill="#111">0</text>
<text x="348.75" y="359.8" font-size="8.2" text-anchor="middle" stroke="#111" stroke-width="0.12" fill="#111">10</text>
<text x="386.4" y="359.8" font-size="8.2" text-anchor="middle" stroke="#111" stroke-width="0.12" fill="#111">20</text>
<text x="424.05" y="359.8" font-size="8.2" text-anchor="middle" stroke="#111" stroke-width="0.12" fill="#111">30</text>
<text x="461.7" y="359.8" font-size="8.2" text-anchor="middle" stroke="#111" stroke-width="0.12" fill="#111">40</text>
<text x="499.35" y="359.8" font-size="8.2" text-anchor="middle" stroke="#111" stroke-width="0.12" fill="#111">50</text>
<text x="406.1" y="377.3" font-size="10.1" text-anchor="middle" font-weight="bold" textLength="70.6" lengthAdjust="spacingAndGlyphs" stroke="#111" stroke-width="0.15" fill="#111">10B12 (µg/mL)</text>
<text x="285.3" y="281.4" font-size="11" text-anchor="middle" font-weight="bold" textLength="74.2" lengthAdjust="spacingAndGlyphs" transform="rotate(-90 285.3 281.4)" fill="#111">% uninhibited</text>
<line x1="311.73" y1="261.16" x2="311.73" y2="258.16" stroke="#303030" stroke-width="0.95"/>
<line x1="308.83" y1="258.16" x2="314.63" y2="258.16" stroke="#202020" stroke-width="1.05"/>
<line x1="311.73" y1="261.16" x2="311.73" y2="264.16" stroke="#303030" stroke-width="0.95"/>
<line x1="308.83" y1="264.16" x2="314.63" y2="264.16" stroke="#202020" stroke-width="1.05"/>
<line x1="314.37" y1="253.64" x2="314.37" y2="250.64" stroke="#303030" stroke-width="0.95"/>
<line x1="311.47" y1="250.64" x2="317.26" y2="250.64" stroke="#202020" stroke-width="1.05"/>
<line x1="314.37" y1="253.64" x2="314.37" y2="256.64" stroke="#303030" stroke-width="0.95"/>
<line x1="311.47" y1="256.64" x2="317.26" y2="256.64" stroke="#202020" stroke-width="1.05"/>
<line x1="321.9" y1="270.56" x2="321.9" y2="265.16" stroke="#303030" stroke-width="0.95"/>
<line x1="319" y1="265.16" x2="324.8" y2="265.16" stroke="#202020" stroke-width="1.05"/>
<line x1="321.9" y1="270.56" x2="321.9" y2="275.96" stroke="#303030" stroke-width="0.95"/>
<line x1="319" y1="275.96" x2="324.8" y2="275.96" stroke="#202020" stroke-width="1.05"/>
<line x1="314.37" y1="243.59" x2="314.37" y2="240.59" stroke="#303030" stroke-width="0.95"/>
<line x1="311.47" y1="240.59" x2="317.26" y2="240.59" stroke="#202020" stroke-width="1.05"/>
<line x1="314.37" y1="243.59" x2="314.37" y2="246.59" stroke="#303030" stroke-width="0.95"/>
<line x1="311.47" y1="246.59" x2="317.26" y2="246.59" stroke="#202020" stroke-width="1.05"/>
<line x1="321.9" y1="244.25" x2="321.9" y2="235.45" stroke="#303030" stroke-width="0.95"/>
<line x1="319" y1="235.45" x2="324.8" y2="235.45" stroke="#202020" stroke-width="1.05"/>
<line x1="321.9" y1="244.25" x2="321.9" y2="253.05" stroke="#303030" stroke-width="0.95"/>
<line x1="319" y1="253.05" x2="324.8" y2="253.05" stroke="#202020" stroke-width="1.05"/>
<line x1="423.55" y1="337.54" x2="423.55" y2="332.54" stroke="#303030" stroke-width="0.95"/>
<line x1="420.65" y1="332.54" x2="426.45" y2="332.54" stroke="#202020" stroke-width="1.05"/>
<line x1="423.55" y1="337.54" x2="423.55" y2="342.54" stroke="#303030" stroke-width="0.95"/>
<line x1="420.65" y1="342.54" x2="426.45" y2="342.54" stroke="#202020" stroke-width="1.05"/>
<line x1="498.85" y1="328.81" x2="498.85" y2="325.06" stroke="#303030" stroke-width="0.95"/>
<line x1="495.95" y1="325.06" x2="501.75" y2="325.06" stroke="#202020" stroke-width="1.05"/>
<line x1="498.85" y1="328.81" x2="498.85" y2="332.56" stroke="#303030" stroke-width="0.95"/>
<line x1="495.95" y1="332.56" x2="501.75" y2="332.56" stroke="#202020" stroke-width="1.05"/>
<polyline points="311.73,261.16 314.37,253.64 321.9,270.56 348.25,332.28 423.55,331.25 498.85,333.22" fill="none" stroke="#202020" stroke-width="1.05" stroke-linejoin="round"/>
<polyline points="311.73,253.64 314.37,243.59 321.9,244.25 348.25,333.78 423.55,337.54 498.85,328.81" fill="none" stroke="#202020" stroke-width="1.05" stroke-linejoin="round"/>
<circle cx="311.73" cy="253.64" r="2.55" fill="#202020"/>
<circle cx="314.37" cy="243.59" r="2.55" fill="#202020"/>
<circle cx="321.9" cy="244.25" r="2.55" fill="#202020"/>
<circle cx="348.25" cy="333.78" r="2.55" fill="#202020"/>
<circle cx="423.55" cy="337.54" r="2.55" fill="#202020"/>
<circle cx="498.85" cy="328.81" r="2.55" fill="#202020"/>
<circle cx="311.73" cy="261.16" r="2.2" fill="#fff" stroke="#202020" stroke-width="0.95"/>
<circle cx="314.37" cy="253.64" r="2.2" fill="#fff" stroke="#202020" stroke-width="0.95"/>
<circle cx="321.9" cy="270.56" r="2.2" fill="#fff" stroke="#202020" stroke-width="0.95"/>
<circle cx="348.25" cy="332.28" r="2.2" fill="#fff" stroke="#202020" stroke-width="0.95"/>
<circle cx="423.55" cy="331.25" r="2.2" fill="#fff" stroke="#202020" stroke-width="0.95"/>
<circle cx="498.85" cy="333.22" r="2.2" fill="#fff" stroke="#202020" stroke-width="0.95"/>
<line x1="487.4" y1="229" x2="487.4" y2="239.7" stroke="#303030" stroke-width="0.95"/>
<line x1="484.5" y1="239.7" x2="490.3" y2="239.7" stroke="#202020" stroke-width="1.05"/>
<line x1="484.5" y1="242.2" x2="490.3" y2="242.2" stroke="#202020" stroke-width="1.05"/>
<polygon points="487.4,226 490.4,231.4 484.4,231.4" fill="#202020"/>
<polygon points="487.4,222 490.4,227.4 484.4,227.4" fill="#fff" stroke="#202020" stroke-width="0.85"/>
<line x1="498.8" y1="239" x2="498.8" y2="249.6" stroke="#303030" stroke-width="0.95"/>
<line x1="495.9" y1="249.6" x2="501.7" y2="249.6" stroke="#202020" stroke-width="1.05"/>
<line x1="495.9" y1="251.7" x2="501.7" y2="251.7" stroke="#202020" stroke-width="1.05"/>
<rect x="496.05" y="236.25" width="5.5" height="5.5" fill="#202020"/>
<rect x="496.45" y="234.45" width="4.7" height="4.7" fill="#fff" stroke="#202020" stroke-width="0.85"/>
<text x="273" y="413" font-size="25" text-anchor="start" font-weight="bold" stroke="#111" stroke-width="0.5" fill="#111">F</text>
<text x="301.9" y="482.95" font-size="7.5" text-anchor="end" font-weight="bold" fill="#111">50</text>
<text x="301.9" y="431" font-size="7.5" text-anchor="end" font-weight="bold" fill="#111">100</text>
<text x="301.3" y="534.6" font-size="7.5" text-anchor="end" font-weight="bold" fill="#111">0</text>
<text x="283.2" y="470.5" font-size="10.3" text-anchor="middle" font-weight="bold" textLength="73.9" lengthAdjust="spacingAndGlyphs" transform="rotate(-90 283.2 470.5)" fill="#111">% aggregation</text>
<line x1="332.62" y1="521.2" x2="332.62" y2="515.3" stroke="#202020" stroke-width="1.05"/>
<line x1="326.2" y1="515.3" x2="339.5" y2="515.3" stroke="#202020" stroke-width="1.1"/>
<rect x="319.25" y="521.2" width="26.75" height="11.1" fill="#cbcbcb" stroke="#383838" stroke-width="1.1"/>
<line x1="371.88" y1="447" x2="371.88" y2="440" stroke="#202020" stroke-width="1.05"/>
<line x1="365" y1="440" x2="378.75" y2="440" stroke="#202020" stroke-width="1.1"/>
<rect x="358.75" y="447" width="26.25" height="85.3" fill="#cbcbcb" stroke="#383838" stroke-width="1.1"/>
<line x1="411.88" y1="429.25" x2="411.88" y2="420" stroke="#202020" stroke-width="1.05"/>
<line x1="405" y1="420" x2="418.75" y2="420" stroke="#202020" stroke-width="1.1"/>
<rect x="398.25" y="429.25" width="27.25" height="103.05" fill="#cbcbcb" stroke="#383838" stroke-width="1.1"/>
<line x1="451.62" y1="444.5" x2="451.62" y2="433.25" stroke="#202020" stroke-width="1.05"/>
<line x1="444.5" y1="433.25" x2="458" y2="433.25" stroke="#202020" stroke-width="1.1"/>
<rect x="438.25" y="444.5" width="26.75" height="87.8" fill="#cbcbcb" stroke="#383838" stroke-width="1.1"/>
<line x1="491" y1="436.5" x2="491" y2="425.25" stroke="#202020" stroke-width="1.05"/>
<line x1="484.5" y1="425.25" x2="498.25" y2="425.25" stroke="#202020" stroke-width="1.1"/>
<rect x="477.5" y="436.5" width="27" height="95.8" fill="#cbcbcb" stroke="#383838" stroke-width="1.1"/>
<text x="332.45" y="544.5" font-size="9.9" text-anchor="middle" font-weight="bold" textLength="38.7" lengthAdjust="spacingAndGlyphs" stroke="#111" stroke-width="0.12" fill="#111">Collagen</text>
<text x="371.7" y="544.5" font-size="9.9" text-anchor="middle" font-weight="bold" textLength="18.8" lengthAdjust="spacingAndGlyphs" stroke="#111" stroke-width="0.12" fill="#111">ADP</text>
<text x="411.88" y="544.5" font-size="9.9" text-anchor="middle" font-weight="bold" textLength="32.75" lengthAdjust="spacingAndGlyphs" stroke="#111" stroke-width="0.12" fill="#111">U46619</text>
<text x="451.5" y="544.5" font-size="9.9" text-anchor="middle" font-weight="bold" textLength="25.5" lengthAdjust="spacingAndGlyphs" stroke="#111" stroke-width="0.12" fill="#111">TRAP</text>
<text x="492.25" y="544.5" font-size="9.9" text-anchor="middle" font-weight="bold" textLength="15.5" lengthAdjust="spacingAndGlyphs" stroke="#111" stroke-width="0.12" fill="#111">EPI</text>
<line x1="35.6" y1="25" x2="35.6" y2="145.2" stroke="#4a4a4a" stroke-width="1.2"/>
<line x1="32.5" y1="145.2" x2="35.6" y2="145.2" stroke="#383838" stroke-width="1.1"/>
<line x1="32.5" y1="123.42" x2="35.6" y2="123.42" stroke="#383838" stroke-width="1.1"/>
<line x1="32.5" y1="101.64" x2="35.6" y2="101.64" stroke="#383838" stroke-width="1.1"/>
<line x1="32.5" y1="79.86" x2="35.6" y2="79.86" stroke="#383838" stroke-width="1.1"/>
<line x1="32.5" y1="58.08" x2="35.6" y2="58.08" stroke="#383838" stroke-width="1.1"/>
<line x1="32.5" y1="36.3" x2="35.6" y2="36.3" stroke="#383838" stroke-width="1.1"/>
<line x1="35.6" y1="145.2" x2="184.6" y2="145.2" stroke="#383838" stroke-width="1.1"/>
<line x1="35.8" y1="145.2" x2="35.8" y2="148.3" stroke="#383838" stroke-width="1.1"/>
<line x1="65.48" y1="145.2" x2="65.48" y2="148.3" stroke="#383838" stroke-width="1.1"/>
<line x1="95.16" y1="145.2" x2="95.16" y2="148.3" stroke="#383838" stroke-width="1.1"/>
<line x1="124.84" y1="145.2" x2="124.84" y2="148.3" stroke="#383838" stroke-width="1.1"/>
<line x1="154.52" y1="145.2" x2="154.52" y2="148.3" stroke="#383838" stroke-width="1.1"/>
<line x1="184.6" y1="143.2" x2="184.6" y2="148.3" stroke="#383838" stroke-width="1.1"/>
<line x1="194.4" y1="145.2" x2="234.75" y2="145.2" stroke="#383838" stroke-width="1.1"/>
<line x1="194.4" y1="143.2" x2="194.4" y2="148.3" stroke="#383838" stroke-width="1.1"/>
<line x1="202.25" y1="145.2" x2="202.25" y2="148.3" stroke="#383838" stroke-width="1.1"/>
<line x1="218.5" y1="145.2" x2="218.5" y2="148.3" stroke="#383838" stroke-width="1.1"/>
<line x1="234.75" y1="145.2" x2="234.75" y2="148.3" stroke="#383838" stroke-width="1.1"/>
<line x1="32.5" y1="324.5" x2="35.6" y2="324.5" stroke="#383838" stroke-width="1.1"/>
<line x1="32.5" y1="307.2" x2="35.6" y2="307.2" stroke="#383838" stroke-width="1.1"/>
<line x1="32.5" y1="289.9" x2="35.6" y2="289.9" stroke="#383838" stroke-width="1.1"/>
<line x1="32.5" y1="272.6" x2="35.6" y2="272.6" stroke="#383838" stroke-width="1.1"/>
<line x1="32.5" y1="255.3" x2="35.6" y2="255.3" stroke="#383838" stroke-width="1.1"/>
<line x1="32.5" y1="238" x2="35.6" y2="238" stroke="#383838" stroke-width="1.1"/>
<line x1="32.5" y1="220.7" x2="35.6" y2="220.7" stroke="#383838" stroke-width="1.1"/>
<line x1="32.5" y1="203.4" x2="35.6" y2="203.4" stroke="#383838" stroke-width="1.1"/>
<line x1="35.6" y1="324.5" x2="230.75" y2="324.5" stroke="#383838" stroke-width="1.1"/>
<line x1="35.6" y1="324.5" x2="35.6" y2="328.5" stroke="#383838" stroke-width="1.1"/>
<line x1="84.35" y1="324.5" x2="84.35" y2="328.5" stroke="#383838" stroke-width="1.1"/>
<line x1="133.1" y1="324.5" x2="133.1" y2="328.5" stroke="#383838" stroke-width="1.1"/>
<line x1="181.85" y1="324.5" x2="181.85" y2="328.5" stroke="#383838" stroke-width="1.1"/>
<line x1="230.6" y1="324.5" x2="230.6" y2="328.5" stroke="#383838" stroke-width="1.1"/>
<line x1="35.8" y1="513.5" x2="38.9" y2="513.5" stroke="#383838" stroke-width="1.1"/>
<line x1="35.8" y1="491.15" x2="38.9" y2="491.15" stroke="#383838" stroke-width="1.1"/>
<line x1="35.8" y1="468.8" x2="38.9" y2="468.8" stroke="#383838" stroke-width="1.1"/>
<line x1="35.8" y1="446.45" x2="38.9" y2="446.45" stroke="#383838" stroke-width="1.1"/>
<line x1="35.8" y1="424.1" x2="38.9" y2="424.1" stroke="#383838" stroke-width="1.1"/>
<line x1="35.8" y1="401.75" x2="38.9" y2="401.75" stroke="#383838" stroke-width="1.1"/>
<line x1="35.8" y1="379.4" x2="38.9" y2="379.4" stroke="#383838" stroke-width="1.1"/>
<line x1="38.9" y1="513.5" x2="237.8" y2="513.5" stroke="#383838" stroke-width="1.1"/>
<line x1="38.9" y1="513.5" x2="38.9" y2="517.5" stroke="#383838" stroke-width="1.1"/>
<line x1="88.62" y1="513.5" x2="88.62" y2="517.5" stroke="#383838" stroke-width="1.1"/>
<line x1="138.35" y1="513.5" x2="138.35" y2="517.5" stroke="#383838" stroke-width="1.1"/>
<line x1="188.08" y1="513.5" x2="188.08" y2="517.5" stroke="#383838" stroke-width="1.1"/>
<line x1="237.8" y1="513.5" x2="237.8" y2="517.5" stroke="#383838" stroke-width="1.1"/>
<line x1="307.2" y1="28.3" x2="307.2" y2="158.1" stroke="#666" stroke-width="1.25"/>
<line x1="304.1" y1="158.1" x2="307.2" y2="158.1" stroke="#383838" stroke-width="1.1"/>
<line x1="304.1" y1="132.13" x2="307.2" y2="132.13" stroke="#383838" stroke-width="1.1"/>
<line x1="304.1" y1="106.16" x2="307.2" y2="106.16" stroke="#383838" stroke-width="1.1"/>
<line x1="304.1" y1="80.19" x2="307.2" y2="80.19" stroke="#383838" stroke-width="1.1"/>
<line x1="304.1" y1="54.22" x2="307.2" y2="54.22" stroke="#383838" stroke-width="1.1"/>
<line x1="304.1" y1="28.25" x2="307.2" y2="28.25" stroke="#383838" stroke-width="1.1"/>
<line x1="307.2" y1="158.1" x2="483" y2="158.1" stroke="#383838" stroke-width="1.1"/>
<line x1="307.2" y1="158.1" x2="307.2" y2="161.6" stroke="#383838" stroke-width="1.1"/>
<line x1="351.2" y1="158.1" x2="351.2" y2="161.6" stroke="#383838" stroke-width="1.1"/>
<line x1="395.2" y1="158.1" x2="395.2" y2="161.6" stroke="#383838" stroke-width="1.1"/>
<line x1="439.2" y1="158.1" x2="439.2" y2="161.6" stroke="#383838" stroke-width="1.1"/>
<line x1="483.2" y1="158.1" x2="483.2" y2="161.6" stroke="#383838" stroke-width="1.1"/>
<line x1="329.2" y1="158.1" x2="329.2" y2="160.4" stroke="#383838" stroke-width="1.1"/>
<line x1="373.2" y1="158.1" x2="373.2" y2="160.4" stroke="#383838" stroke-width="1.1"/>
<line x1="417.2" y1="158.1" x2="417.2" y2="160.4" stroke="#383838" stroke-width="1.1"/>
<line x1="461.2" y1="158.1" x2="461.2" y2="160.4" stroke="#383838" stroke-width="1.1"/>
<line x1="483" y1="155.9" x2="483" y2="161.5" stroke="#383838" stroke-width="1.1"/>
<line x1="492.3" y1="158.1" x2="500.7" y2="158.1" stroke="#383838" stroke-width="1.1"/>
<line x1="492.3" y1="155.9" x2="492.3" y2="161.5" stroke="#383838" stroke-width="1.1"/>
<line x1="500.7" y1="158.1" x2="500.7" y2="161.5" stroke="#383838" stroke-width="1.1"/>
<line x1="310.6" y1="220.8" x2="310.6" y2="347.8" stroke="#383838" stroke-width="1.1"/>
<line x1="307.5" y1="338.2" x2="310.6" y2="338.2" stroke="#383838" stroke-width="1.1"/>
<line x1="307.5" y1="314.71" x2="310.6" y2="314.71" stroke="#383838" stroke-width="1.1"/>
<line x1="307.5" y1="291.22" x2="310.6" y2="291.22" stroke="#383838" stroke-width="1.1"/>
<line x1="307.5" y1="267.74" x2="310.6" y2="267.74" stroke="#383838" stroke-width="1.1"/>
<line x1="307.5" y1="244.25" x2="310.6" y2="244.25" stroke="#383838" stroke-width="1.1"/>
<line x1="307.5" y1="220.76" x2="310.6" y2="220.76" stroke="#383838" stroke-width="1.1"/>
<line x1="310.6" y1="347.8" x2="498.5" y2="347.8" stroke="#383838" stroke-width="1.1"/>
<line x1="310.6" y1="347.8" x2="310.6" y2="351.3" stroke="#383838" stroke-width="1.1"/>
<line x1="348.25" y1="347.8" x2="348.25" y2="351.3" stroke="#383838" stroke-width="1.1"/>
<line x1="385.9" y1="347.8" x2="385.9" y2="351.3" stroke="#383838" stroke-width="1.1"/>
<line x1="423.55" y1="347.8" x2="423.55" y2="351.3" stroke="#383838" stroke-width="1.1"/>
<line x1="461.2" y1="347.8" x2="461.2" y2="351.3" stroke="#383838" stroke-width="1.1"/>
<line x1="498.85" y1="347.8" x2="498.85" y2="351.3" stroke="#383838" stroke-width="1.1"/>
<line x1="306" y1="418.3" x2="306" y2="532.3" stroke="#777" stroke-width="1.3"/>
<line x1="302.9" y1="480.35" x2="306" y2="480.35" stroke="#383838" stroke-width="1.1"/>
<line x1="302.9" y1="428.4" x2="306" y2="428.4" stroke="#383838" stroke-width="1.1"/>
<line x1="302.9" y1="532.3" x2="520" y2="532.3" stroke="#383838" stroke-width="1.1"/>
</svg></body></html>
